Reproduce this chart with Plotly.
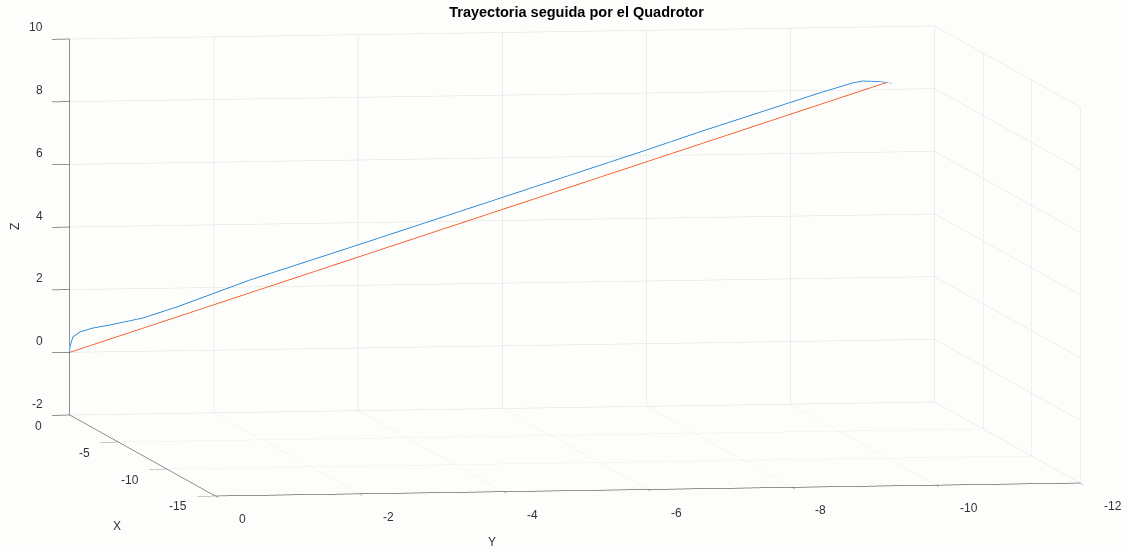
import plotly.graph_objects as go
import numpy as np

# Reference trajectory (straight line from origin to target)
ref_x = [0.0, -10.0]
ref_y = [0.0, -10.0]
ref_z = [0.0, 10.0]

real_x = [0.0, 0.0, -0.037, -0.122, -0.281, -0.489, -0.893, -1.308, -2.201, -3.522, -7.056, -7.704, -9.171, -9.574, -9.72, -9.86, -10.16]
real_y = [0.0, 0.0, -0.037, -0.122, -0.281, -0.489, -0.893, -1.308, -2.201, -3.522, -7.056, -7.704, -9.171, -9.574, -9.693, -9.91, -10.04]
real_z = [0.0, 0.17, 0.493, 0.665, 0.814, 0.939, 1.219, 1.627, 2.611, 3.912, 7.433, 8.097, 9.544, 9.919, 10.0, 10.0, 10.0]

x_ticks = [-15, -10, -5, 0]
y_ticks = [-12, -10, -8, -6, -4, -2, 0]
z_ticks = [-2, 0, 2, 4, 6, 8, 10]

title_text = "Trayectoria seguida por el Quadrotor"

fig = go.Figure()
fig.add_trace(go.Scatter3d(x=real_x, y=real_y, z=real_z, mode="lines",
                           line=dict(color="#1a82d6", width=1.7), showlegend=False,
                           hoverinfo="skip"))
fig.add_trace(go.Scatter3d(x=ref_x, y=ref_y, z=ref_z, mode="lines",
                           line=dict(color="#f4561f", width=1.7), showlegend=False,
                           hoverinfo="skip"))

font_fam = "Liberation Sans, Arial, Helvetica, sans-serif"
lab_font = dict(family=font_fam, size=12, color="#333333")

def axis(rng, ticks):
    return dict(
        title=dict(text=""),
        range=rng, tickvals=ticks, autorange=False,
        showticklabels=False,
        showgrid=True, gridcolor="#dedede", gridwidth=1,
        showline=True, linecolor="#262626", linewidth=1,
        ticks="outside", ticklen=18, tickcolor="#262626", tickwidth=1,
        showbackground=False, zeroline=False, showspikes=False,
    )

# tick labels and axis titles as scene annotations (MATLAB-like placement)
ann = []
for t in z_ticks:
    ann.append(dict(x=0, y=0, z=t, text=str(t), showarrow=False, xanchor="right",
                    yanchor="middle", xshift=-25, yshift=11.5, font=lab_font))
for t in x_ticks:
    ann.append(dict(x=t, y=0, z=-2, text=str(t), showarrow=False, xanchor="right",
                    yanchor="middle", xshift=-26, yshift=-10.5, font=lab_font))
for t in y_ticks:
    ann.append(dict(x=-15, y=t, z=-2, text=str(t), showarrow=False, xanchor="left",
                    yanchor="middle", xshift=21.5, yshift=-23, font=lab_font))
ann.append(dict(x=-7.5, y=0, z=-2, text="X", showarrow=False, xanchor="center",
                yanchor="middle", xshift=-25.4, yshift=-70.2, font=lab_font))
ann.append(dict(x=-15, y=-4, z=-2, text="Y", showarrow=False, xanchor="center",
                yanchor="middle", xshift=-12, yshift=-50, font=lab_font))
ann.append(dict(x=0, y=0, z=4, text="Z", showarrow=False, xanchor="center",
                yanchor="middle", xshift=-54.7, yshift=0, textangle=-90, font=lab_font))

k = 3.438
ax_ratio = dict(x=1.0 * k, y=0.9768 * k, z=0.4208 * k)
d = np.array([-0.98253, 0.16141, 0.09146])
D = 8.0
eye = d / np.linalg.norm(d) * D

fig.update_layout(
    width=1128, height=550,
    paper_bgcolor="#fdfdfb",
    margin=dict(l=22, r=0, t=0, b=28),
    title=dict(text="<b>" + title_text + "</b>", x=0.5111, xanchor="center",
               y=0.978, yanchor="middle", yref="container",
               font=dict(family=font_fam, size=14.5, color="#000000")),
    scene=dict(
        domain=dict(x=[0, 1], y=[0, 1]),
        xaxis=axis([-15, 0], x_ticks),
        yaxis=axis([-12, 0], y_ticks),
        zaxis=axis([-2, 10], z_ticks),
        aspectmode="manual",
        aspectratio=ax_ratio,
        camera=dict(eye=dict(x=eye[0], y=eye[1], z=eye[2]),
                    up=dict(x=0, y=0, z=1),
                    center=dict(x=0, y=0, z=0),
                    projection=dict(type="orthographic")),
        bgcolor="#fdfdfb",
        annotations=ann,
    ),
)

fig.write_html("out.html", config={"displayModeBar": False},
               post_script="document.body.style.margin='0px';")
